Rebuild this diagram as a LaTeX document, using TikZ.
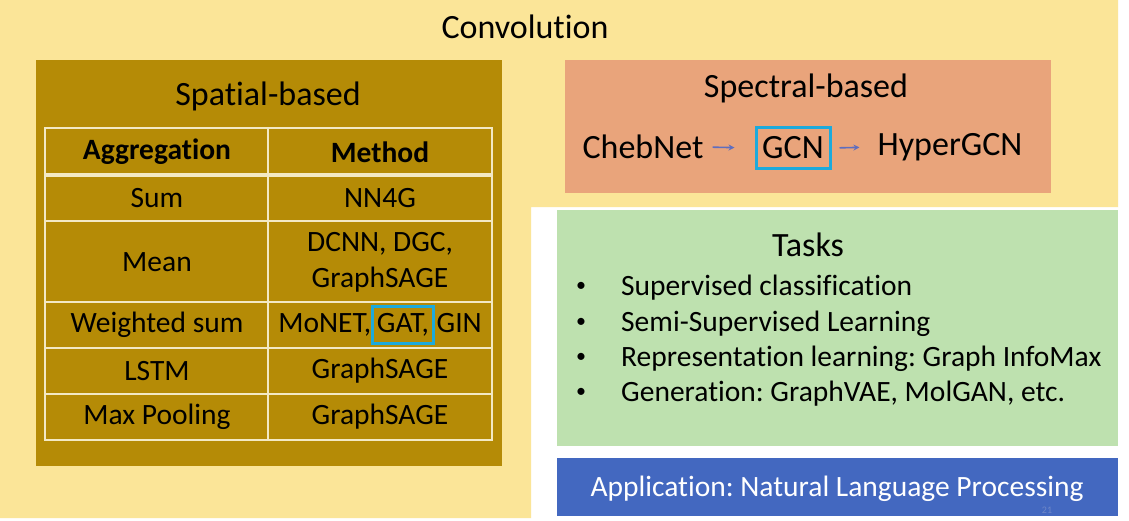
\documentclass[tikz,border=0pt]{standalone}
\usepackage{fontspec}
\setmainfont[RawFeature=-liga]{Carlito}
\frenchspacing
\usetikzlibrary{arrows.meta}
\definecolor{bgyellow}{RGB}{251,229,152}
\definecolor{spatialc}{RGB}{181,139,6}
\definecolor{linec}{RGB}{243,233,196}
\definecolor{spectralc}{RGB}{233,164,123}
\definecolor{taskc}{RGB}{190,225,175}
\definecolor{appc}{RGB}{67,104,192}
\definecolor{hlc}{RGB}{28,170,220}
\definecolor{arrc}{RGB}{95,110,190}
\definecolor{numc}{RGB}{110,135,200}
\begin{document}
\begin{tikzpicture}[x=1pt,y=-1pt,
  panel/.style={anchor=north west,inner sep=0pt,outer sep=0pt,draw=none},
  big/.style={font=\fontsize{34}{41}\selectfont,inner sep=0pt},
  cell/.style={font=\fontsize{29.5}{36}\selectfont,inner sep=0pt,align=center},
  hcell/.style={font=\bfseries\fontsize{29.5}{36}\selectfont,inner sep=0pt},
  item/.style={font=\fontsize{29.5}{36}\selectfont,inner sep=0pt,anchor=base west},
  bul/.style={font=\fontsize{20}{24}\selectfont,inner sep=0pt},
  tline/.style={draw=linec,line width=1.8pt},
  hl/.style={draw=hlc,line width=3pt,inner sep=0pt},
  arr/.style={draw=arrc,line width=1.6pt,-{Stealth[length=6pt,width=6pt]}}
]
\useasboundingbox (0,0) rectangle (1129,520);
\fill[white] (0,0) rectangle (1129,520);
\fill[bgyellow] (0,0) -- (1118,0) -- (1118,207) -- (531,207) -- (531,518) -- (0,518) -- cycle;

\node[big] (conv) at (525,27) {Convolution};

% Spatial-based panel
\node[panel,fill=spatialc,minimum width=466pt,minimum height=406pt] (spatial) at (36,60) {};
\node[big] (spt) at (268,96) {Spatial-based};
\draw[tline] (45,128) rectangle (492,440);
\draw[tline] (268,128) -- (268,440);
\draw[draw=linec,line width=4pt] (45,175) -- (492,175);
\foreach \yy in {221,302,348,394} \draw[tline] (45,\yy) -- (492,\yy);
\node[hcell] (h1) at (157,152) {Aggregation};
\node[hcell] (h2) at (380,152) {Method};
\node[cell] (a1) at (157,198) {Sum};
\node[cell] (m1) at (380,198) {NN4G};
\node[cell] (a2) at (157,262) {Mean};
\node[cell] (m2) at (380,262) {DCNN, DGC,\\GraphSAGE};
\node[cell] (a3) at (157,325) {Weighted sum};
\node[cell] (m3) at (380,325) {MoNET, \phantom{GAT,} GIN};
\node[hl,minimum width=61pt,minimum height=37pt] (gat) at (403,325) {};
\node[cell] (gatt) at (403,325) {GAT,};
\node[cell] (a4) at (157,371) {LSTM};
\node[cell] (m4) at (380,371) {GraphSAGE};
\node[cell] (a5) at (157,417) {Max Pooling};
\node[cell] (m5) at (380,417) {GraphSAGE};

% Spectral-based panel
\node[panel,fill=spectralc,minimum width=486pt,minimum height=133pt] (spectral) at (565,60) {};
\node[big] (spe) at (806,88) {Spectral-based};
\node[big] (cheb) at (643,147) {ChebNet};
\node[big,hl,minimum width=74pt,minimum height=41pt] (gcn) at (793,148) {GCN};
\node[big] (hyper) at (950,147) {HyperGCN};
\draw[arr,shorten <=9pt,shorten >=20pt] (cheb.east) -- (gcn.west);
\draw[arr,shorten <=8pt,shorten >=18pt] (gcn.east) -- (hyper.west);

% Tasks panel
\node[panel,fill=taskc,minimum width=561pt,minimum height=236pt] (tasks) at (557,210) {};
\node[big] (tt) at (808,245) {Tasks};
\node[bul] (b1) at (581,287) {•};
\node[item] (t1) at (621,295) {Supervised classification};
\node[bul] (b2) at (581,323) {•};
\node[item] (t2) at (621,331) {Semi-Supervised Learning};
\node[bul] (b3) at (581,358) {•};
\node[item] (t3) at (621,366) {Representation learning: Graph InfoMax};
\node[bul] (b4) at (581,393) {•};
\node[item] (t4) at (621,401) {Generation: GraphVAE, MolGAN, etc.};

% Application panel
\node[panel,fill=appc,minimum width=561pt,minimum height=58pt] (app) at (557,458) {};
\node[cell,text=white] (appt) at (837,489) {Application: Natural Language Processing};
\node[font=\fontsize{10}{12}\selectfont,text=numc,inner sep=0pt] (num) at (1047,510) {21};
\end{tikzpicture}
\end{document}
